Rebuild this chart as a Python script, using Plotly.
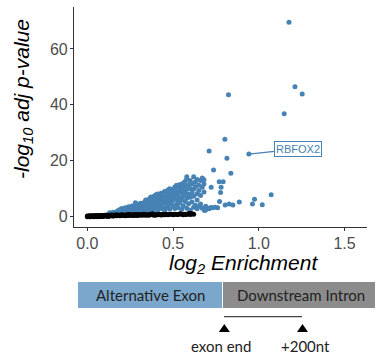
import plotly.graph_objects as go

# ---- data ----
black_x = [0.00,0.00,0.01,0.01,0.01,0.02,0.02,0.02,0.03,0.03,
           0.03,0.04,0.04,0.04,0.05,0.05,0.05,0.06,0.06,0.06,
           0.07,0.07,0.07,0.08,0.08,0.08,0.09,0.09,0.09,0.10,
           0.10,0.10,0.11,0.11,0.11,0.12,0.12,0.12,0.13,0.13,
           0.13,0.14,0.14,0.14,0.15,0.15,0.15,0.16,0.16,0.16,
           0.17,0.17,0.17,0.18,0.18,0.19,0.19,0.20,0.20,0.21,
           0.21,0.22,0.22,0.23,0.23,0.24,0.24,0.25,0.25,0.26,
           0.26,0.27,0.27,0.28,0.28,0.29,0.30,0.30,0.31,0.32,
           0.32,0.33,0.34,0.34,0.35,0.36,0.36,0.37,0.38,0.39,
           0.40,0.40,0.41,0.42,0.43,0.44,0.45,0.46,0.47,0.48,
           0.50,0.51,0.53,0.54,0.56,0.57,0.58,0.59,0.60,0.61,
           0.62,0.60,0.55,0.52,0.49,0.44,0.38,0.33,0.29,0.24]
black_y = [0.0,0.2,0.1,0.3,0.0,0.1,0.3,0.0,0.2,0.1,
           0.3,0.1,0.0,0.3,0.1,0.2,0.4,0.1,0.3,0.0,
           0.2,0.4,0.1,0.3,0.1,0.4,0.2,0.3,0.1,0.3,
           0.5,0.2,0.3,0.2,0.5,0.3,0.4,0.1,0.3,0.5,
           0.2,0.4,0.3,0.6,0.3,0.5,0.2,0.4,0.6,0.3,
           0.5,0.3,0.6,0.4,0.6,0.3,0.5,0.5,0.7,0.4,
           0.6,0.5,0.3,0.7,0.5,0.6,0.4,0.7,0.5,0.5,
           0.7,0.6,0.4,0.8,0.5,0.7,0.5,0.8,0.6,0.8,
           0.5,0.7,0.5,0.8,0.6,0.8,0.5,0.9,0.7,0.5,
           0.8,0.6,0.7,0.9,0.6,0.8,0.7,0.9,0.7,0.9,
           0.7,0.9,0.8,1.0,0.7,0.9,0.8,1.1,0.8,1.0,
           0.9,1.1,0.9,0.8,0.9,0.7,1.0,0.9,0.4,0.8]

blue_x = [0.12,0.13,0.14,0.15,0.16,0.17,
          0.13,0.14,0.15,0.16,0.17,0.18,0.18,0.19,0.19,0.20,0.20,
          0.21,0.21,0.22,0.22,0.23,0.23,0.24,0.24,0.25,0.25,
          0.26,0.26,0.27,0.27,0.28,0.28,0.28,0.29,0.29,0.30,0.30,0.30,
          0.31,0.31,0.31,0.32,0.32,0.33,0.33,0.33,0.34,0.34,0.34,0.35,0.35,0.35,
          0.36,0.36,0.36,0.37,0.37,0.37,0.37,0.38,0.38,0.38,0.39,0.39,0.39,0.39,0.40,0.40,0.40,0.40,
          0.41,0.41,0.41,0.41,0.42,0.42,0.42,0.43,0.43,0.43,0.43,0.44,0.44,0.44,0.45,0.45,0.45,0.45,
          0.46,0.46,0.46,0.46,0.47,0.47,0.47,0.47,0.48,0.48,0.48,0.48,0.49,0.49,0.49,0.50,0.50,0.50,0.50,
          0.51,0.51,0.51,0.51,0.52,0.52,0.52,0.52,0.53,0.53,0.53,0.53,0.54,0.54,0.54,0.54,0.55,0.55,0.55,0.55,
          0.56,0.56,0.56,0.56,0.57,0.57,0.57,0.57,0.58,0.58,0.58,0.58,0.58,0.59,0.59,0.59,0.60,0.60,0.60,0.60,
          0.61,0.61,0.61,0.62,0.62,0.62,0.62,0.63,0.63,0.63,0.64,0.64,0.64,0.64,0.65,0.65,0.65,
          0.66,0.66,0.66,0.67,0.67,0.67,0.68,0.68,0.68,0.69,0.69,0.70,
          0.683,0.71,0.72,0.710,0.722,0.736,0.769,0.792,0.780,0.777,0.771,0.73,0.745,0.76,
          0.804,0.827,0.849,0.886,0.963,0.975,1.020,1.072,
          0.802,0.814,0.837,0.823,0.942,1.148,1.176,1.211,1.253]
blue_y = [0.8,1.0,0.9,1.1,1.2,1.0,
          1.4,1.1,1.6,1.3,1.8,1.5,2.2,1.2,2.6,1.7,2.9,
          2.1,1.4,2.6,3.2,1.8,2.4,3.5,1.6,2.8,2.1,
          3.8,1.9,2.5,3.2,4.1,1.8,5.0,2.7,3.6,4.4,2.2,1.6,
          3.1,4.8,2.0,3.8,2.5,5.1,3.3,1.8,4.2,2.8,6.0,3.6,5.2,2.3,
          4.5,6.3,2.9,3.7,5.6,7.0,2.1,4.9,6.6,3.2,5.8,7.4,2.6,4.1,6.9,3.5,5.2,7.8,
          4.6,6.2,2.4,8.1,5.5,7.2,3.8,6.7,4.4,8.4,2.9,5.9,7.6,3.4,9.0,6.4,4.8,2.2,
          7.1,5.3,8.8,3.1,6.0,8.2,4.2,9.5,7.4,5.6,2.7,10.0,6.8,8.9,4.6,7.9,3.6,9.8,5.9,
          8.5,6.3,10.6,2.9,7.2,9.3,4.4,11.2,8.0,5.5,10.9,3.3,9.6,6.8,11.5,4.9,8.7,2.6,10.4,6.1,
          9.2,12.0,7.5,3.8,10.8,5.4,8.3,12.6,14.3,9.7,6.6,3.0,13.5,11.4,8.0,4.6,10.1,12.9,6.9,2.4,
          11.8,8.6,5.2,14.3,9.9,3.4,7.3,12.4,10.7,4.1,13.3,8.2,6.0,2.8,11.2,9.4,3.6,
          12.9,7.6,4.5,10.5,13.8,3.0,11.7,8.8,13.2,3.7,2.4,3.1,
          2.2,2.8,3.3,23.5,10.5,16.7,12.5,12.5,10.5,8.6,5.4,3.2,3.4,3.2,
          4.2,4.5,4.2,5.2,4.5,6.2,4.3,7.8,
          27.7,20.9,15.5,43.6,22.4,36.8,69.5,46.5,43.9]

label_text = "RBFOX2"
label_x = 0.942
label_y = 22.4

x_ticks = [0.0, 0.5, 1.0, 1.5]
x_tick_labels = ["0.0", "0.5", "1.0", "1.5"]
y_ticks = [0, 20, 40, 60]
y_tick_labels = ["0", "20", "40", "60"]

W, H = 376, 356
def px(x):
    return x / W
def py(y):
    return 1 - y / H

BLUE = "#4682B4"
AXC = "#333333"

fig = go.Figure()
fig.add_trace(go.Scatter(x=blue_x, y=blue_y, mode="markers",
                         marker=dict(color=BLUE, size=5, line=dict(width=0)),
                         showlegend=False, hoverinfo="skip"))
fig.add_trace(go.Scatter(x=black_x, y=black_y, mode="markers",
                         marker=dict(color="black", size=5, line=dict(width=0)),
                         showlegend=False, hoverinfo="skip"))

font_main = "Liberation Sans, Arial, sans-serif"
font_diag = "Lato, Liberation Sans, sans-serif"

axis_common = dict(showline=True, linecolor=AXC, linewidth=1.1,
                   ticks="outside", ticklen=3, tickcolor=AXC, tickwidth=1.1,
                   showgrid=False, zeroline=False, automargin=False,
                   ticklabelstandoff=-1,
                   tickfont=dict(family=font_main, size=16, color="#4D4D4D"))

fig.update_layout(
    width=W, height=H,
    margin=dict(l=0, r=0, t=0, b=0),
    paper_bgcolor="white", plot_bgcolor="white",
    xaxis=dict(domain=[px(74), px(367)], range=[-0.078, 1.631],
               tickvals=x_ticks, ticktext=x_tick_labels, **axis_common),
    yaxis=dict(domain=[py(227), py(7)], range=[-3.7, 75],
               tickvals=y_ticks, ticktext=y_tick_labels, **axis_common),
)

annotations = [
    dict(text="<i>log<sub>2</sub> Enrichment</i>", x=px(243), y=py(264),
         xref="paper", yref="paper", showarrow=False, xanchor="center", yanchor="middle",
         font=dict(family=font_main, size=21, color="black")),
    dict(text="<i>-log<sub>10</sub> adj p-value</i>", x=px(23), y=py(99),
         xref="paper", yref="paper", showarrow=False, xanchor="center", yanchor="middle",
         textangle=-90, font=dict(family=font_main, size=21, color="black")),
    dict(text=label_text, x=label_x, y=label_y, xref="x", yref="y",
         showarrow=True, arrowhead=0, arrowwidth=1.2, arrowcolor=BLUE,
         ax=49, ay=-5, axref="pixel", ayref="pixel",
         bordercolor=BLUE, borderwidth=1, borderpad=1, bgcolor="white",
         font=dict(family=font_main, size=11, color=BLUE)),
    dict(text="Alternative Exon", x=px(150), y=py(295), xref="paper", yref="paper",
         showarrow=False, xanchor="center", yanchor="middle",
         font=dict(family=font_diag, size=15, color="#222222")),
    dict(text="Downstream Intron", x=px(301), y=py(295), xref="paper", yref="paper",
         showarrow=False, xanchor="center", yanchor="middle",
         font=dict(family=font_diag, size=15, color="#222222")),
    dict(text="exon end", x=px(221.5), y=py(346), xref="paper", yref="paper",
         showarrow=False, xanchor="center", yanchor="middle",
         font=dict(family=font_diag, size=15, color="#222222")),
    dict(text="+200nt", x=px(305.5), y=py(346), xref="paper", yref="paper",
         showarrow=False, xanchor="center", yanchor="middle",
         font=dict(family=font_diag, size=15, color="#222222")),
]
fig.update_layout(annotations=annotations)

def tri(cx, top, bot, half):
    return (f"M {px(cx - half)},{py(bot)} L {px(cx + half)},{py(bot)} "
            f"L {px(cx)},{py(top)} Z")

shapes = [
    dict(type="rect", xref="paper", yref="paper", x0=px(78), x1=px(222), y0=py(308), y1=py(282),
         fillcolor="#7BA7CC", line=dict(width=0), layer="below"),
    dict(type="rect", xref="paper", yref="paper", x0=px(223), x1=px(375), y0=py(308), y1=py(282),
         fillcolor="#8C8C8C", line=dict(width=0), layer="below"),
    dict(type="line", xref="paper", yref="paper", x0=px(224), x1=px(302), y0=py(316.7), y1=py(316.7),
         line=dict(color="#444444", width=1.2)),
    dict(type="path", xref="paper", yref="paper", path=tri(224.3, 324, 332, 5.5),
         fillcolor="black", line=dict(width=0)),
    dict(type="path", xref="paper", yref="paper", path=tri(302.5, 324, 332, 5.5),
         fillcolor="black", line=dict(width=0)),
]
fig.update_layout(shapes=shapes)

fig.write_html("out.html")
